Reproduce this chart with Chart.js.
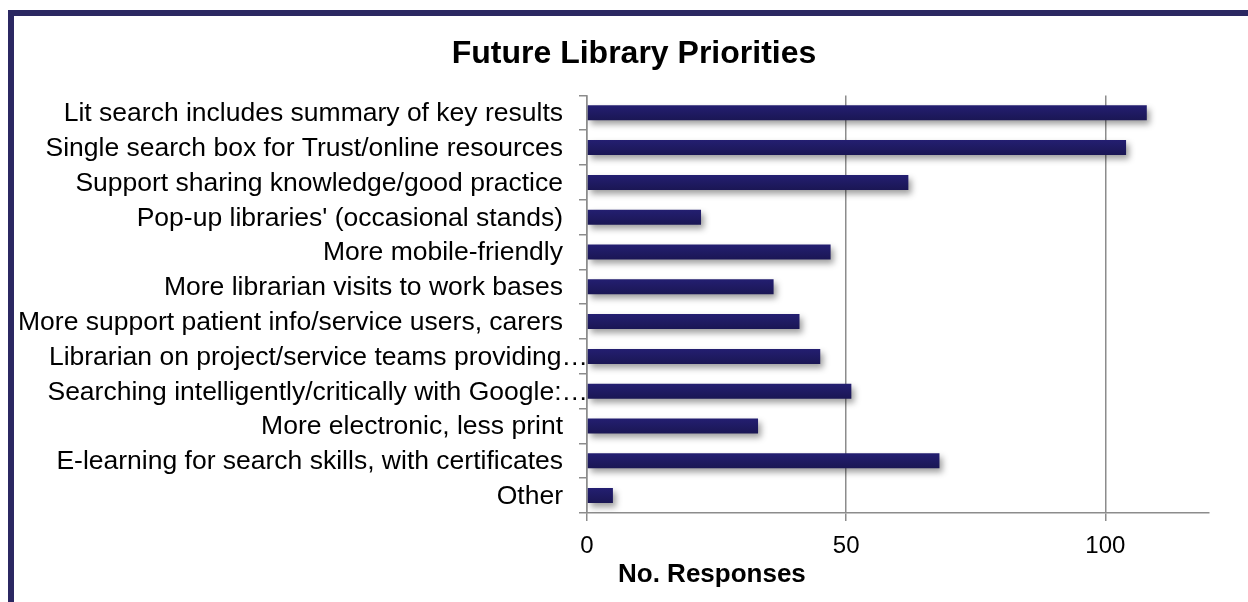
<!DOCTYPE html>
<html>
<head>
<meta charset="utf-8">
<script src="https://cdn.jsdelivr.net/npm/chart.js@4"></script>
<style>
  html, body { margin: 0; padding: 0; background: #fff; overflow: hidden; }
  #wrap { position: relative; width: 1248px; height: 602px; }
  #frame {
    position: absolute; left: 8px; top: 10px; width: 1300px; height: 700px;
    border-top: 6px solid #2b2862; border-left: 6px solid #2b2862;
    pointer-events: none;
  }
  canvas { position: absolute; left: 0; top: 0; }
</style>
</head>
<body>
<div id="wrap">
  <canvas id="chart" width="1248" height="602"></canvas>
  <div id="frame"></div>
</div>
<script>
// Survey categories, top to bottom
const categories = [
  "Lit search includes summary of key results",
  "Single search box for Trust/online resources",
  "Support sharing knowledge/good practice",
  "Pop-up libraries' (occasional stands)",
  "More mobile-friendly",
  "More librarian visits to work bases",
  "More support patient info/service users, carers",
  "Librarian on project/service teams providing…",
  "Searching intelligently/critically with Google:…",
  "More electronic, less print",
  "E-learning for search skills, with certificates",
  "Other"
];

// Number of responses per category
const responses = [108, 104, 62, 22, 47, 36, 41, 45, 51, 33, 68, 5];

// Value axis ticks
const xTicks = [0, 50, 100];
const xMax = 120;

const chartTitle = "Future Library Priorities";
const xAxisTitle = "No. Responses";

const FONT = "'Liberation Sans', Arial, sans-serif";
Chart.defaults.font.family = FONT;
Chart.defaults.color = '#000';

const GRID = '#8c8c8c';
const PAD_LEFT = 59;

// Soft drop shadow beneath the bars
const barShadow = {
  id: 'barShadow',
  beforeDatasetsDraw(chart) {
    const ctx = chart.ctx;
    ctx.save();
    ctx.shadowColor = 'rgba(0,0,0,0.38)';
    ctx.shadowBlur = 6;
    ctx.shadowOffsetX = 3;
    ctx.shadowOffsetY = 4;
  },
  afterDatasetsDraw(chart) {
    chart.ctx.restore();
  }
};

// Category labels, right-aligned beside the axis; clipped labels run up to the axis
const categoryLabels = {
  id: 'categoryLabels',
  afterDraw(chart) {
    const ctx = chart.ctx;
    const y = chart.scales.y;
    const left = chart.chartArea.left;
    ctx.save();
    ctx.font = '26.5px ' + FONT;
    ctx.fillStyle = '#000';
    ctx.textAlign = 'right';
    ctx.textBaseline = 'middle';
    chart.data.labels.forEach((lab, i) => {
      const x = lab.endsWith('…') ? left + 1 : left - 24;
      ctx.fillText(lab, x, y.getPixelForTick(i) + 1);
    });
    // value axis title
    ctx.font = 'bold 26px ' + FONT;
    ctx.textAlign = 'left';
    ctx.textBaseline = 'alphabetic';
    ctx.fillText(xAxisTitle, left + 31, chart.scales.x.bottom - 20);
    ctx.restore();
  }
};

function barFill(context) {
  const chart = context.chart;
  const ys = chart.scales && chart.scales.y;
  const c = ys ? ys.getPixelForValue(context.dataIndex) : NaN;
  if (c == null || isNaN(c)) return '#211c66';
  const g = chart.ctx.createLinearGradient(0, c - 8, 0, c + 8);
  g.addColorStop(0, '#241f72');
  g.addColorStop(1, '#1a1653');
  return g;
}

new Chart(document.getElementById('chart'), {
  type: 'bar',
  data: {
    labels: categories,
    datasets: [{
      data: responses,
      backgroundColor: barFill,
      borderWidth: 0,
      barPercentage: 0.43,
      categoryPercentage: 1
    }]
  },
  options: {
    indexAxis: 'y',
    responsive: false,
    animation: false,
    layout: { padding: { left: PAD_LEFT, right: 39, top: 0, bottom: 0 } },
    plugins: {
      legend: { display: false },
      tooltip: { enabled: false },
      title: {
        display: true,
        text: chartTitle,
        color: '#000',
        font: { size: 32, weight: 'bold', family: FONT },
        padding: { top: 35, bottom: 22 }
      }
    },
    scales: {
      x: {
        min: 0,
        max: xMax,
        afterBuildTicks(scale) {
          scale.ticks = xTicks.map(v => ({ value: v }));
        },
        afterFit(scale) { scale.height = 89; },
        ticks: {
          font: { size: 24 },
          color: '#000',
          padding: 11
        },
        grid: {
          color: GRID,
          lineWidth: 1.5,
          drawTicks: true,
          tickLength: 8
        },
        border: { display: true, color: GRID, width: 1.5 }
      },
      y: {
        afterFit(scale) { scale.width = 587 - PAD_LEFT; },
        ticks: { display: false },
        grid: {
          offset: true,
          drawOnChartArea: false,
          drawTicks: true,
          tickLength: 8,
          color: GRID,
          lineWidth: 1.5
        },
        border: { display: true, color: GRID, width: 1.5 }
      }
    }
  },
  plugins: [barShadow, categoryLabels]
});
</script>
</body>
</html>
